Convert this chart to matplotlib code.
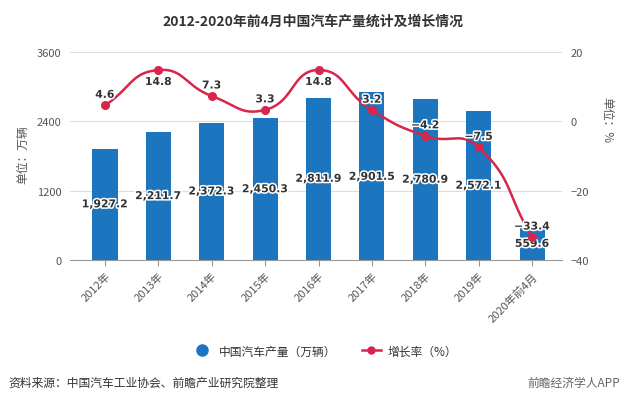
import numpy as np
import matplotlib
matplotlib.use("Agg")
import matplotlib.pyplot as plt
import matplotlib.patheffects as pe
from matplotlib.lines import Line2D

plt.rcParams['font.family'] = ['Noto Sans CJK SC', 'DejaVu Sans']

categories = ['2012年', '2013年', '2014年', '2015年', '2016年', '2017年', '2018年', '2019年', '2020年前4月']
production = [1927.2, 2211.7, 2372.3, 2450.3, 2811.9, 2901.5, 2780.9, 2572.1, 559.6]
growth = [4.6, 14.8, 7.3, 3.3, 14.8, 3.2, -4.2, -7.5, -33.4]

bar_color = '#1b75bf'
line_color = '#d8254b'

fig = plt.figure(figsize=(6.25, 4.06), dpi=100)
ax = fig.add_axes([70/625, (406-261)/406, 492/625, 208/406])
ax2 = ax.twinx()

x = np.arange(len(categories))
ax.bar(x, production, width=0.47, color=bar_color, zorder=2)
ax.set_xlim(-0.655, 8.56)
ax.set_ylim(0, 3600)
ax.set_yticks([0, 1200, 2400, 3600])
ax.grid(axis='y', color='#dddddd', linewidth=0.8, zorder=0)
ax.set_axisbelow(True)
for s in ['top', 'right', 'left']:
    ax.spines[s].set_visible(False)
ax.spines['bottom'].set_color('#999999')
ax.tick_params(axis='y', length=0, labelsize=8, colors='#555555', pad=6)
ax.tick_params(axis='x', length=4, color='#999999', labelsize=8, labelcolor='#555555')
ax.set_xticks(x)
ax.set_xticklabels(categories, rotation=45, ha='right', rotation_mode='anchor')

halo = [pe.withStroke(linewidth=2.2, foreground='white')]
for xi, v in zip(x, production):
    ax.text(xi, min(v / 2, 1440), f'{v:,.1f}', ha='center', va='center', fontsize=7.8,
            fontweight='bold', color='#333333', path_effects=halo, zorder=5,
            family=['DejaVu Sans'])

ax2.set_ylim(-40, 20)

# echarts-style smooth bezier rendering, computed in pixel space
fig.canvas.draw()
trans = ax2.transData
pts = trans.transform(np.column_stack([x, growth]))
smooth = 0.5
npt = len(pts)
cp_in = np.zeros_like(pts)
cp_out = np.zeros_like(pts)
for i in range(npt):
    p = pts[i]
    prev = pts[i - 1] if i > 0 else p
    nxt = pts[i + 1] if i < npt - 1 else p
    v = nxt - prev
    d0 = np.hypot(*(p - prev))
    d1 = np.hypot(*(p - nxt))
    s = d0 + d1
    if s > 0:
        d0 /= s
        d1 /= s
    cp_in[i] = p - v * smooth * d0
    cp_out[i] = p + v * smooth * d1
curve = []
t = np.linspace(0, 1, 40)[:, None]
for i in range(npt - 1):
    P0, P1, P2, P3 = pts[i], cp_out[i], cp_in[i + 1], pts[i + 1]
    seg = (1-t)**3*P0 + 3*(1-t)**2*t*P1 + 3*(1-t)*t**2*P2 + t**3*P3
    curve.append(seg)
curve = np.vstack(curve)
curve_data = trans.inverted().transform(curve)
ax2.plot(curve_data[:, 0], curve_data[:, 1], color=line_color, linewidth=1.8, zorder=3)
ax2.plot(x, growth, 'o', color=line_color, markersize=5.5, zorder=4)
ax2.set_ylim(-40, 20)
ax2.set_xlim(-0.655, 8.56)
ax2.set_yticks([-40, -20, 0, 20])
for s in ['top', 'right', 'left', 'bottom']:
    ax2.spines[s].set_visible(False)
ax2.tick_params(axis='y', length=0, labelsize=8, colors='#555555', pad=6)

for xi, v in zip(x, growth):
    if v > 12:
        ax2.annotate(f'{v:.1f}', (xi, v), xytext=(0, -5), textcoords='offset points',
                     ha='center', va='top', fontsize=7.8, fontweight='bold', color='#333333',
                     path_effects=halo, zorder=6, family=['DejaVu Sans'])
    else:
        lab = f'{v:.1f}'.replace('-', '−')
        ax2.annotate(lab, (xi, v), xytext=(0, 4), textcoords='offset points',
                     ha='center', va='bottom', fontsize=7.8, fontweight='bold', color='#333333',
                     path_effects=halo, zorder=6, family=['DejaVu Sans'])

fig.text(0.5, 1 - 22/406, '2012-2020年前4月中国汽车产量统计及增长情况', ha='center', va='center',
         fontsize=10, fontweight='bold', color='#333333')
fig.text(23/625, 1 - 155/406, '单位：万辆', rotation=90, ha='center', va='center',
         fontsize=8.5, color='#555555')
fig.text(607/625, 1 - 120/406, '单位：%', rotation=270, ha='center', va='center',
         fontsize=8.5, color='#555555')

handles = [Line2D([0], [0], marker='o', color='none', markerfacecolor=bar_color,
                  markeredgecolor=bar_color, markersize=8),
           Line2D([0], [0], marker='o', color=line_color, markersize=5, linewidth=1.8)]
fig.legend(handles, ['中国汽车产量（万辆）', '增长率（%）'], loc='center',
           bbox_to_anchor=(0.52, 1 - 352/406), ncol=2, frameon=False, fontsize=8.5,
           handlelength=1.6, columnspacing=2.2, handletextpad=0.6, labelcolor='#333333')

fig.text(8/625, 1 - 383/406, '资料来源：中国汽车工业协会、前瞻产业研究院整理', ha='left', va='center',
         fontsize=8.5, color='#333333')
fig.text(620/625, 1 - 383/406, '前瞻经济学人APP', ha='right', va='center',
         fontsize=8.5, color='#666666')

fig.savefig('out.png', dpi=100)
